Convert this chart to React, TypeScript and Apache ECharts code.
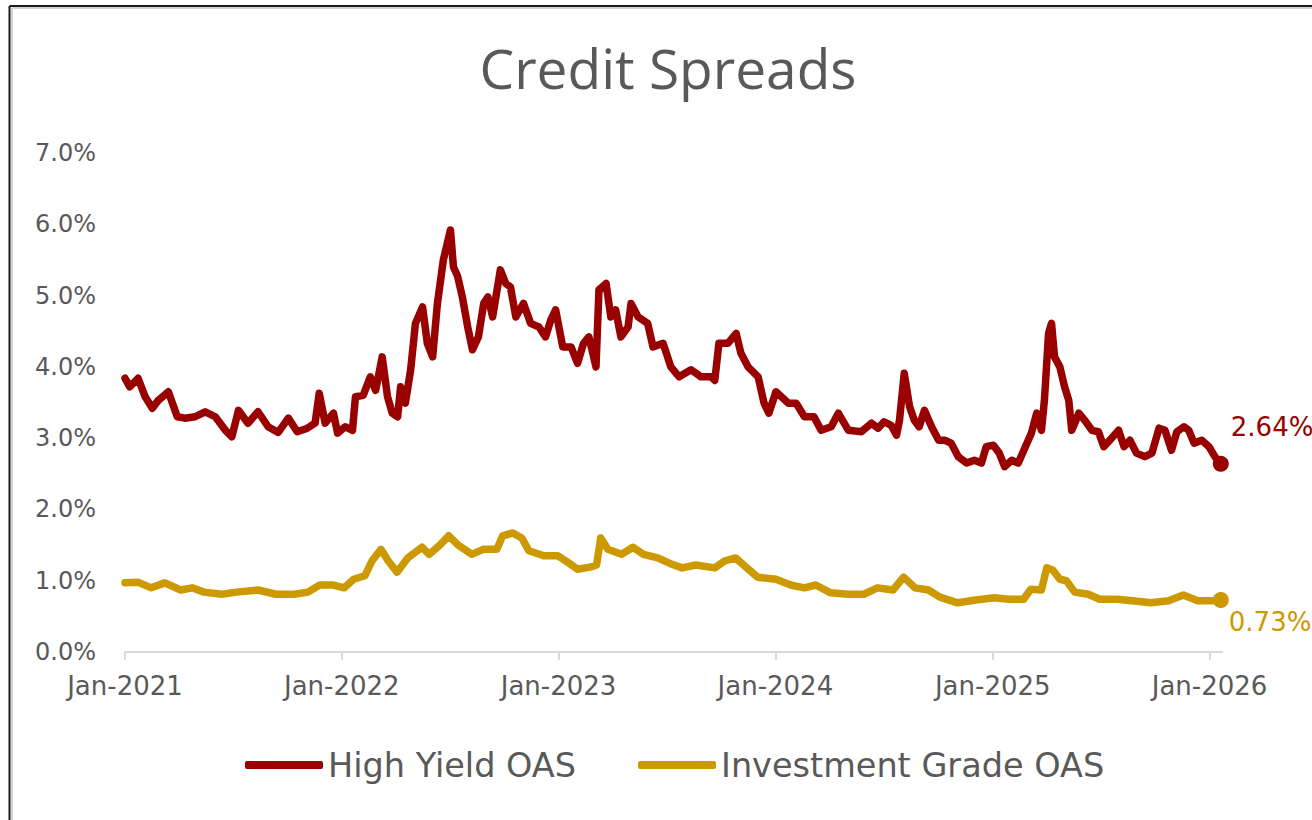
import React, { useEffect, useRef } from "react";
import * as echarts from "echarts";

const hyDates = [
  "2021-01-01","2021-01-09","2021-01-23","2021-02-04","2021-02-16","2021-02-26","2021-03-15","2021-03-30",
  "2021-04-12","2021-04-29","2021-05-16","2021-06-02","2021-06-19","2021-06-30","2021-07-11","2021-07-27",
  "2021-08-13","2021-08-30","2021-09-16","2021-10-03","2021-10-18","2021-11-04","2021-11-17","2021-11-24",
  "2021-12-04","2021-12-18","2021-12-25","2022-01-07","2022-01-19","2022-01-24","2022-02-06","2022-02-18",
  "2022-02-27","2022-03-10","2022-03-19","2022-03-27","2022-04-05","2022-04-10","2022-04-18","2022-04-27",
  "2022-05-05","2022-05-17","2022-05-25","2022-06-03","2022-06-11","2022-06-21","2022-07-03","2022-07-08",
  "2022-07-15","2022-07-23","2022-08-01","2022-08-09","2022-08-19","2022-08-28","2022-09-04","2022-09-12",
  "2022-09-25","2022-10-04","2022-10-12","2022-10-21","2022-11-03","2022-11-15","2022-11-29","2022-12-10",
  "2022-12-19","2022-12-27","2023-01-08","2023-01-22","2023-02-02","2023-02-12","2023-02-21","2023-03-05",
  "2023-03-10","2023-03-22","2023-03-30","2023-04-07","2023-04-16","2023-04-28","2023-05-03","2023-05-15",
  "2023-05-31","2023-06-09","2023-06-26","2023-07-09","2023-07-23","2023-08-12","2023-08-29","2023-09-15",
  "2023-09-21","2023-09-28","2023-10-13","2023-10-27","2023-11-04","2023-11-16","2023-12-03","2023-12-13",
  "2023-12-21","2024-01-02","2024-01-23","2024-02-05","2024-02-19","2024-03-06","2024-03-18","2024-04-04",
  "2024-04-16","2024-05-03","2024-05-25","2024-06-11","2024-06-22","2024-07-02","2024-07-14","2024-07-23",
  "2024-07-28","2024-08-05","2024-08-14","2024-08-22","2024-08-30","2024-09-08","2024-09-20","2024-10-02",
  "2024-10-12","2024-10-23","2024-11-04","2024-11-18","2024-12-01","2024-12-13","2024-12-21","2025-01-02",
  "2025-01-12","2025-01-21","2025-02-02","2025-02-13","2025-02-24","2025-03-07","2025-03-16","2025-03-24",
  "2025-03-29","2025-04-05","2025-04-10","2025-04-15","2025-04-24","2025-05-02","2025-05-09","2025-05-14",
  "2025-05-26","2025-06-05","2025-06-17","2025-06-28","2025-07-07","2025-07-17","2025-08-01","2025-08-10",
  "2025-08-20","2025-08-31","2025-09-14","2025-09-26","2025-10-08","2025-10-18","2025-10-29","2025-11-07",
  "2025-11-19","2025-11-27","2025-12-06","2025-12-19","2025-12-31","2026-01-10","2026-01-20",
];
const hyValues = [
  3.84,3.72,3.84,3.58,3.42,3.53,3.65,3.30,
  3.28,3.30,3.37,3.30,3.11,3.02,3.39,3.21,
  3.37,3.16,3.08,3.28,3.09,3.14,3.21,3.63,
  3.21,3.35,3.07,3.16,3.11,3.58,3.60,3.86,
  3.67,4.14,3.58,3.35,3.30,3.72,3.49,3.96,
  4.61,4.84,4.33,4.14,4.89,5.50,5.92,5.40,
  5.27,4.98,4.56,4.24,4.42,4.89,4.98,4.70,
  5.36,5.17,5.12,4.70,4.89,4.61,4.56,4.42,
  4.66,4.80,4.28,4.28,4.05,4.33,4.42,4.00,
  5.08,5.17,4.70,4.80,4.42,4.56,4.89,4.70,
  4.61,4.28,4.33,4.00,3.86,3.96,3.86,3.86,
  3.81,4.33,4.33,4.47,4.19,4.00,3.86,3.49,
  3.35,3.65,3.49,3.49,3.30,3.30,3.11,3.16,
  3.35,3.11,3.09,3.21,3.14,3.23,3.18,3.04,
  3.25,3.91,3.44,3.25,3.16,3.39,3.16,2.97,
  2.97,2.93,2.74,2.65,2.69,2.65,2.88,2.90,
  2.79,2.60,2.69,2.65,2.86,3.07,3.35,3.11,
  3.53,4.47,4.61,4.14,4.00,3.72,3.53,3.11,
  3.35,3.25,3.11,3.09,2.88,2.97,3.11,2.88,
  2.97,2.79,2.74,2.79,3.14,3.11,2.83,3.09,
  3.16,3.11,2.93,2.97,2.88,2.74,2.64,
];

const igDates = [
  "2021-01-01","2021-01-23","2021-02-14","2021-03-09","2021-04-05","2021-04-24","2021-05-14","2021-06-13",
  "2021-07-07","2021-08-13","2021-09-12","2021-10-13","2021-11-05","2021-11-25","2021-12-17","2022-01-05",
  "2022-01-21","2022-02-09","2022-02-21","2022-03-08","2022-03-20","2022-04-04","2022-04-22","2022-05-16",
  "2022-05-28","2022-06-15","2022-06-30","2022-07-16","2022-08-08","2022-08-27","2022-09-19","2022-09-29",
  "2022-10-16","2022-10-31","2022-11-12","2022-12-07","2022-12-31","2023-01-18","2023-02-02","2023-02-23",
  "2023-03-06","2023-03-13","2023-03-25","2023-04-17","2023-05-06","2023-05-24","2023-06-17","2023-07-11",
  "2023-07-28","2023-08-20","2023-09-21","2023-10-08","2023-10-26","2023-11-14","2023-12-02","2024-01-02",
  "2024-01-27","2024-02-19","2024-03-09","2024-04-03","2024-05-03","2024-05-29","2024-06-21","2024-07-17",
  "2024-08-04","2024-08-23","2024-09-15","2024-10-04","2024-11-03","2024-12-03","2025-01-04","2025-01-28",
  "2025-02-22","2025-03-06","2025-03-24","2025-04-02","2025-04-12","2025-04-24","2025-05-05","2025-05-19",
  "2025-06-11","2025-06-30","2025-07-30","2025-08-24","2025-09-24","2025-10-24","2025-11-18","2025-12-12",
  "2026-01-06","2026-01-20",
];
const igValues = [
  0.97,0.98,0.90,0.97,0.87,0.90,0.84,0.81,
  0.84,0.87,0.81,0.81,0.84,0.94,0.94,0.90,
  1.02,1.07,1.28,1.44,1.28,1.12,1.32,1.47,
  1.37,1.50,1.63,1.50,1.37,1.44,1.44,1.63,
  1.67,1.60,1.42,1.35,1.35,1.25,1.16,1.19,
  1.22,1.60,1.44,1.37,1.47,1.37,1.32,1.23,
  1.18,1.22,1.18,1.28,1.32,1.18,1.05,1.02,
  0.94,0.90,0.94,0.83,0.81,0.81,0.90,0.87,
  1.05,0.90,0.87,0.77,0.69,0.73,0.76,0.74,
  0.74,0.88,0.87,1.18,1.15,1.02,1.00,0.84,
  0.81,0.74,0.74,0.72,0.69,0.72,0.80,0.72,
  0.72,0.73,
];

const yTicks = [0, 1, 2, 3, 4, 5, 6, 7];
const monthNames = ["Jan","Feb","Mar","Apr","May","Jun","Jul","Aug","Sep","Oct","Nov","Dec"];
const seriesNames = ["High Yield OAS", "Investment Grade OAS"];
const colors = ["#990000", "#CC9900"];

const GRAY = "#595959";
const FONT = "DejaVu Sans";

export default function App() {
  const ref = useRef<HTMLDivElement>(null);
  useEffect(() => {
    if (!ref.current) return;
    const chart = echarts.init(ref.current, undefined, { renderer: "svg" });
    const hyLast = hyValues.length - 1;
    const igLast = igValues.length - 1;
    const option: any = {
      animation: false,
      backgroundColor: "#ffffff",
      graphic: [
        { type: "line", shape: { x1: 9.5, y1: 6, x2: 1320, y2: 6 }, style: { stroke: "#1a1a1a", lineWidth: 2 } },
        { type: "line", shape: { x1: 9.5, y1: 6, x2: 9.5, y2: 830 }, style: { stroke: "#1a1a1a", lineWidth: 2 } },
        { type: "line", shape: { x1: 12, y1: 8, x2: 1320, y2: 8 }, style: { stroke: "#d4d4d4", lineWidth: 2 } },
        { type: "line", shape: { x1: 12, y1: 8, x2: 12, y2: 830 }, style: { stroke: "#d4d4d4", lineWidth: 2 } },
        {
          type: "text",
          x: 668,
          y: 67,
          style: {
            text: "Credit Spreads",
            fill: GRAY,
            font: "normal 55px 'Open Sans'",
            textAlign: "center",
            textVerticalAlign: "middle",
          },
        },
      ],
      grid: { left: 125, right: 90, top: 153, bottom: 168 },
      legend: {
        data: seriesNames,
        left: 245,
        top: 748,
        padding: 0,
        itemWidth: 78,
        itemHeight: 8,
        itemGap: 62,
        icon: "roundRect",
        textStyle: { color: GRAY, fontSize: 33.5, fontFamily: FONT },
      },
      xAxis: {
        type: "time",
        min: "2021-01-01",
        max: "2026-01-22",
        minInterval: 365 * 86400000,
        maxInterval: 366 * 86400000,
        axisLine: { show: true, lineStyle: { color: "#d9d9d9", width: 2 } },
        axisTick: { show: true, length: 8, lineStyle: { color: "#d9d9d9", width: 2 } },
        splitLine: { show: false },
        minorTick: { show: false },
        axisLabel: {
          color: GRAY,
          fontSize: 26,
          fontFamily: FONT,
          margin: 21,
          hideOverlap: false,
          formatter: (val: number) => {
            const d = new Date(val);
            return monthNames[d.getMonth()] + "-" + d.getFullYear();
          },
        },
      },
      yAxis: {
        type: "value",
        min: yTicks[0],
        max: yTicks[yTicks.length - 1],
        interval: 1,
        axisLine: { show: false },
        axisTick: { show: false },
        splitLine: { show: false },
        axisLabel: {
          color: GRAY,
          fontSize: 24,
          fontFamily: FONT,
          margin: 29,
          formatter: (v: number) => v.toFixed(1) + "%",
        },
      },
      series: [
        {
          name: seriesNames[0],
          type: "line",
          data: hyDates.map((d, i) => [d, hyValues[i]]),
          showSymbol: false,
          itemStyle: { color: colors[0] },
          lineStyle: { color: colors[0], width: 7.5, join: "round", cap: "round" },
          endLabel: {
            show: true,
            formatter: () => hyValues[hyLast].toFixed(2) + "%",
            color: colors[0],
            fontSize: 26,
            fontFamily: FONT,
            offset: [2, -37],
          },
          markPoint: {
            symbol: "circle",
            symbolSize: 16,
            label: { show: false },
            itemStyle: { color: colors[0] },
            data: [{ coord: [hyDates[hyLast], hyValues[hyLast]] }],
          },
          z: 3,
        },
        {
          name: seriesNames[1],
          type: "line",
          data: igDates.map((d, i) => [d, igValues[i]]),
          showSymbol: false,
          itemStyle: { color: colors[1] },
          lineStyle: { color: colors[1], width: 7.5, join: "round", cap: "round" },
          endLabel: {
            show: true,
            formatter: () => igValues[igLast].toFixed(2) + "%",
            color: colors[1],
            fontSize: 26,
            fontFamily: FONT,
            offset: [0, 22],
          },
          markPoint: {
            symbol: "circle",
            symbolSize: 16,
            label: { show: false },
            itemStyle: { color: colors[1] },
            data: [{ coord: [igDates[igLast], igValues[igLast]] }],
          },
          z: 2,
        },
      ],
    };
    chart.setOption(option);
    return () => chart.dispose();
  }, []);
  return (
    <div
      ref={ref}
      style={{ position: "fixed", left: 0, top: 0, width: 1312, height: 820, background: "#fff" }}
    />
  );
}
